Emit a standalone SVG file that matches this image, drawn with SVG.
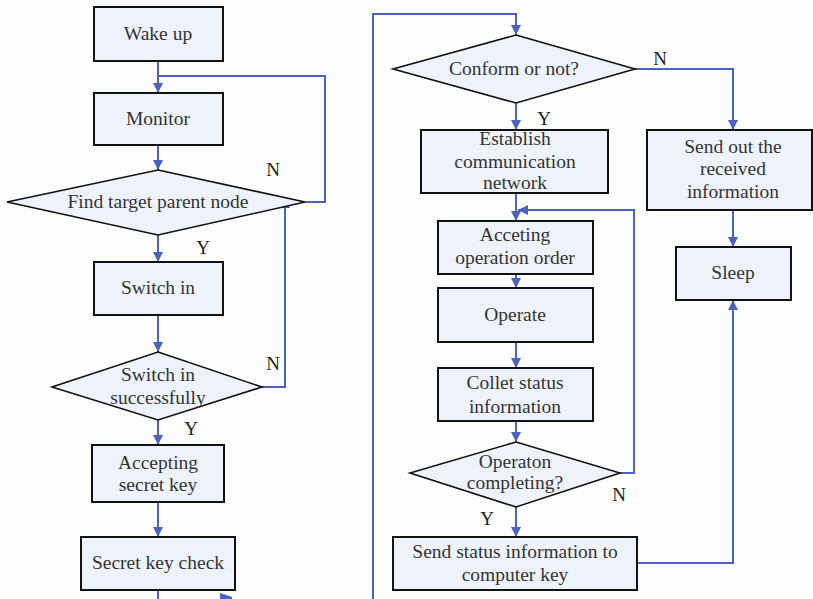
<svg xmlns="http://www.w3.org/2000/svg" width="813" height="599" viewBox="0 0 813 599">
<style>
.box{fill:#eef3fb;stroke:#111;stroke-width:2}
.dia{fill:#eef3fb;stroke:#111;stroke-width:1.6}
.t{font-size:19.5px;fill:#333;text-anchor:middle}
.lbl{font-size:19px;fill:#222;text-anchor:middle}
.c{fill:none;stroke:#4a62c0;stroke-width:2}
</style>
<defs>
<marker id="a" viewBox="0 0 10 10" refX="10" refY="5" markerWidth="5" markerHeight="5" orient="auto" markerUnits="strokeWidth">
<path d="M0,0 L10,5 L0,10 z" fill="#4a62c0"/>
</marker>
</defs>
<rect width="813" height="599" fill="#fdfdfd"/>
<g font-family="'Liberation Serif','Times New Roman',serif">
<g id="connectors">
<path class="c" d="M158,61 V93" marker-end="url(#a)"/>
<path class="c" d="M305,202 H325 V76 H158"/>
<path class="c" d="M158,145 V170" marker-end="url(#a)"/>
<path class="c" d="M158,235 V262" marker-end="url(#a)"/>
<path class="c" d="M158,315 V352" marker-end="url(#a)"/>
<path class="c" d="M262,387 H285 V198" marker-end="url(#a)"/>
<path class="c" d="M158,420 V445" marker-end="url(#a)"/>
<path class="c" d="M158,502 V537" marker-end="url(#a)"/>
<path class="c" d="M158,590 V599"/>
<path d="M220,593 L232,597 L232,599 L220,599 z" fill="#4a62c0"/>
<path class="c" d="M373,599 V14 H516 V35" marker-end="url(#a)"/>
<path class="c" d="M635,69 H733 V130" marker-end="url(#a)"/>
<path class="c" d="M516,103 V130" marker-end="url(#a)"/>
<path class="c" d="M516,193 V221" marker-end="url(#a)"/>
<path class="c" d="M620,473 H634 V210 H518" marker-end="url(#a)"/>
<path class="c" d="M516,274 V288" marker-end="url(#a)"/>
<path class="c" d="M516,342 V368" marker-end="url(#a)"/>
<path class="c" d="M516,421 V442" marker-end="url(#a)"/>
<path class="c" d="M516,507 V537" marker-end="url(#a)"/>
<path class="c" d="M733,210 V247" marker-end="url(#a)"/>
<path class="c" d="M637,563 H733 V300" marker-end="url(#a)"/>
<text class="lbl" x="273" y="176">N</text>
<text class="lbl" x="203" y="254">Y</text>
<text class="lbl" x="273" y="370">N</text>
<text class="lbl" x="191" y="435">Y</text>
<text class="lbl" x="660" y="65">N</text>
<text class="lbl" x="544" y="125">Y</text>
<text class="lbl" x="619" y="501">N</text>
<text class="lbl" x="487" y="525">Y</text>
</g>
<g id="wake"><rect class="box" x="94" y="7" width="129" height="54"/><text class="t" x="158" y="40">Wake up</text></g>
<g id="monitor"><rect class="box" x="94" y="93" width="129" height="52"/><text class="t" x="158" y="125">Monitor</text></g>
<g id="find"><path class="dia" d="M158,170 L305,202 L158,235 L7,202 z"/><text class="t" x="158" y="208">Find target parent node</text></g>
<g id="switchin"><rect class="box" x="94" y="262" width="129" height="53"/><text class="t" x="158" y="294">Switch in</text></g>
<g id="switchok"><path class="dia" d="M158,352 L262,387 L158,420 L52,387 z"/><text class="t" x="158" y="381">Switch in</text><text class="t" x="158" y="404">successfully</text></g>
<g id="acceptkey"><rect class="box" x="92" y="445" width="132" height="57"/><text class="t" x="158" y="469">Accepting</text><text class="t" x="158" y="491">secret key</text></g>
<g id="keycheck"><rect class="box" x="81" y="537" width="154" height="53"/><text class="t" x="158" y="569">Secret key check</text></g>
<g id="conform"><path class="dia" d="M516,35 L635,69 L516,103 L393,69 z"/><text class="t" x="514" y="75">Conform or not?</text></g>
<g id="establish"><rect class="box" x="421" y="130" width="187" height="63"/><text class="t" x="515" y="145">Establish</text><text class="t" x="515" y="168">communication</text><text class="t" x="515" y="189">network</text></g>
<g id="sendout"><rect class="box" x="647" y="130" width="165" height="80"/><text class="t" x="733" y="153">Send out the</text><text class="t" x="733" y="175">received</text><text class="t" x="733" y="198">information</text></g>
<g id="sleep"><rect class="box" x="676" y="247" width="115" height="53"/><text class="t" x="733" y="279">Sleep</text></g>
<g id="acceptorder"><rect class="box" x="438" y="221" width="155" height="53"/><text class="t" x="515" y="241">Acceting</text><text class="t" x="515" y="264">operation order</text></g>
<g id="operate"><rect class="box" x="438" y="288" width="155" height="54"/><text class="t" x="515" y="321">Operate</text></g>
<g id="collect"><rect class="box" x="438" y="368" width="155" height="53"/><text class="t" x="515" y="389">Collet status</text><text class="t" x="515" y="413">information</text></g>
<g id="complete"><path class="dia" d="M516,442 L620,473 L516,507 L410,473 z"/><text class="t" x="515" y="468">Operaton</text><text class="t" x="515" y="489">completing?</text></g>
<g id="sendstatus"><rect class="box" x="393" y="537" width="244" height="53"/><text class="t" x="515" y="558">Send status information to</text><text class="t" x="515" y="581">computer key</text></g>
</g>
</svg>
